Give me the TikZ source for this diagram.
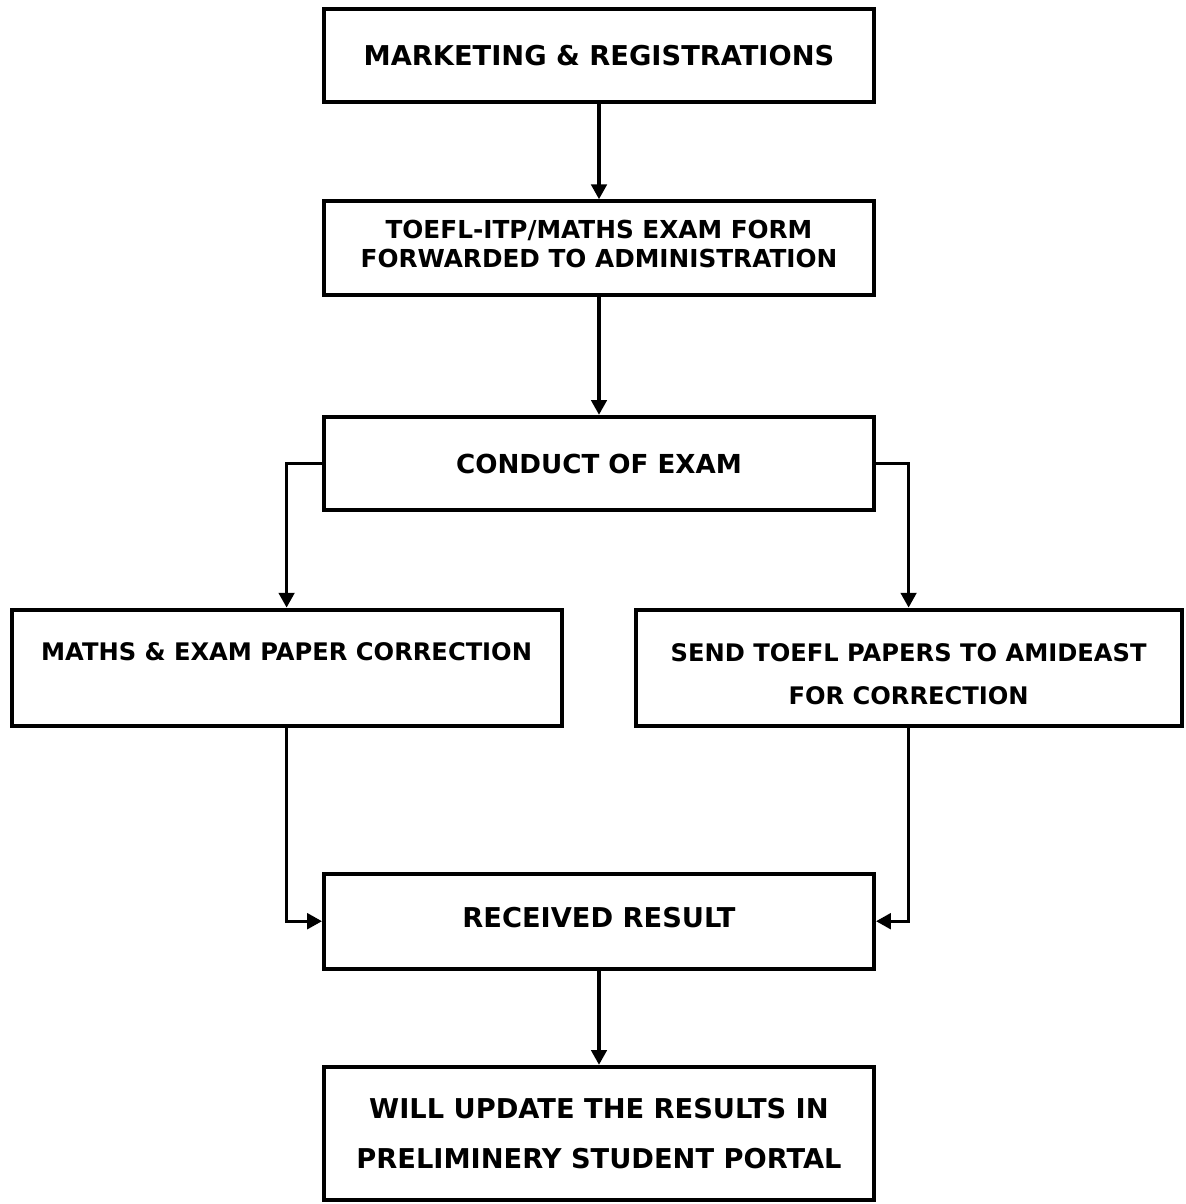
\documentclass[tikz,border=0pt]{standalone}
\usepackage{fontspec}
\setmainfont{DejaVu Sans}
\usetikzlibrary{arrows.meta}
\usetikzlibrary{positioning}
\newcommand{\shifttext}[2]{\raisebox{#1}[\height][\depth]{\begin{tabular}{@{}c@{}}#2\end{tabular}}}

\begin{document}
\begin{tikzpicture}[->,>={Triangle[length=10.5pt,width=11pt]},line width=2.3pt,node distance=4.81cm,
			font=\fontsize{19.4}{20.6}\selectfont\bfseries]
			\tikzstyle{block}=[draw,line width=2.85pt,minimum width=13.75cm,minimum height=2.34cm,align=center,inner sep=0pt]
			\tikzstyle{small}=[font=\fontsize{17.2}{18.6}\selectfont\bfseries,minimum height=2.9cm]
			
			\useasboundingbox (0,0) rectangle (29.65,-30.1);
			
			\node[block]         (mkt)     at (14.975,-1.39)                          {MARKETING \& REGISTRATIONS};
			\node[block,font=\fontsize{17.6}{20.6}\selectfont\bfseries]  (form)  [below of=mkt]
			{\shifttext{0.8pt}{TOEFL-ITP/MATHS EXAM FORM\\FORWARDED TO ADMINISTRATION}};
			\node[block,font=\fontsize{18.6}{20.6}\selectfont\bfseries]  (exam)  [node distance=5.39cm,below of=form] {CONDUCT OF EXAM};
			\node[block,small]   (maths)   [node distance=5.1cm,below of=exam,xshift=-7.81cm]
			{\shifttext{-6.4pt}{MATHS \& EXAM PAPER CORRECTION\\[12pt]\mbox{}}};
			\node[block,small,minimum width=13.65cm]  (toefl) [node distance=5.1cm,below of=exam,xshift=7.74cm]
			{\shifttext{-7.4pt}{SEND TOEFL PAPERS TO AMIDEAST\\[12pt]FOR CORRECTION}};
			\node[block,minimum height=2.37cm] (result) [node distance=11.44cm,below of=exam] {\shifttext{-0.1pt}{RECEIVED RESULT}};
			\node[block,minimum height=3.34cm] (portal) [node distance=5.31cm,below of=result]
			{\shifttext{-2.8pt}{WILL UPDATE THE RESULTS IN\\[15pt]PRELIMINERY STUDENT PORTAL}};
			
			\path (mkt)   edge                                      (form)
			(form)  edge                                      (exam)
			(exam)  edge [to path={-| (\tikztotarget)}]       (maths)
			(exam)  edge [to path={-| (\tikztotarget)}]       (toefl)
			(maths) edge [to path={|- (\tikztotarget)}]       (result)
			(toefl) edge [to path={|- (\tikztotarget)}]       (result)
			(result) edge                                     (portal)
			;
\end{tikzpicture}
\end{document}
